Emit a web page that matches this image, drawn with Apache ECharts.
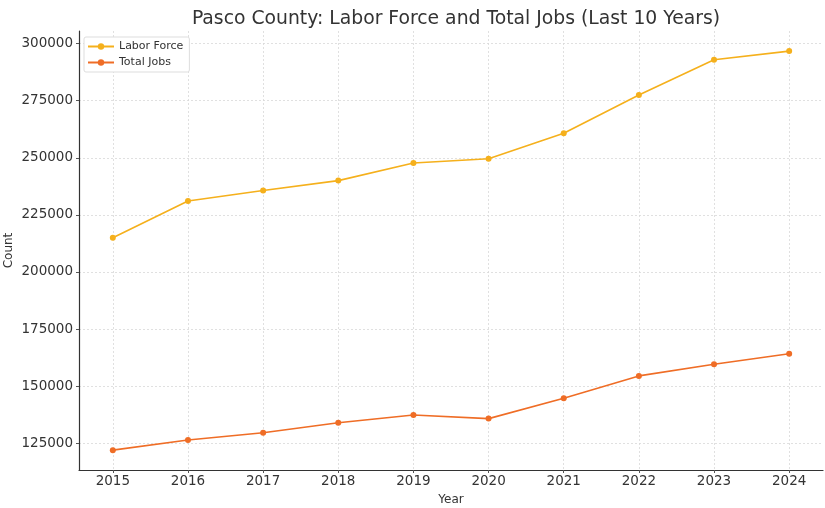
<!DOCTYPE html>
<html>
<head>
<meta charset="utf-8">
<script src="https://cdn.jsdelivr.net/npm/echarts@6/dist/echarts.min.js"></script>
<style>html,body{margin:0;padding:0;background:#fff}#c{width:825px;height:508px}</style>
</head>
<body>
<div id="c"></div>
<script>
var years = [2015, 2016, 2017, 2018, 2019, 2020, 2021, 2022, 2023, 2024];
var laborForce = [215000, 231100, 235700, 240000, 247700, 249600, 260700, 277500, 292900, 296700];
var totalJobs = [122000, 126400, 129600, 134000, 137400, 135800, 144700, 154500, 159600, 164200];
var yTicks = [125000, 150000, 175000, 200000, 225000, 250000, 275000, 300000];

var font = 'DejaVu Sans';
function pairs(vals) { return years.map(function (y, i) { return [y, vals[i]]; }); }

var chart = echarts.init(document.getElementById('c'), null, { renderer: 'canvas' });
chart.setOption({
  animation: false,
  backgroundColor: '#ffffff',
  title: {
    text: 'Pasco County: Labor Force and Total Jobs (Last 10 Years)',
    left: 451, top: 5, textAlign: 'center',
    textStyle: { fontFamily: font, fontSize: 18.8, fontWeight: 'normal', color: '#333' }
  },
  legend: {
    left: 84, top: 37, orient: 'vertical', itemGap: 5,
    padding: [4, 6, 4, 3],
    backgroundColor: '#fff', borderColor: '#ddd', borderWidth: 1, borderRadius: 2,
    itemWidth: 26, itemHeight: 8,
    textStyle: { fontFamily: font, fontSize: 11, color: '#333' },
    data: ['Labor Force', 'Total Jobs']
  },
  grid: { left: 79, right: 2, top: 31, bottom: 38, containLabel: false, outerBoundsMode: 'none' },
  xAxis: {
    type: 'value', min: 2014.55, max: 2024.45,
    name: 'Year', nameLocation: 'middle', nameGap: 24, nameMoveOverlap: false,
    nameTextStyle: { fontFamily: font, fontSize: 12, color: '#333' },
    axisLine: { show: true, lineStyle: { color: '#333', width: 1.2 } },
    axisTick: { show: true, length: 3, customValues: years, lineStyle: { color: '#555' } },
    axisLabel: { customValues: years, fontFamily: font, fontSize: 13.5, color: '#333', margin: 4,
      formatter: function (v) { return String(Math.round(v)); } },
    splitLine: { show: true, lineStyle: { color: '#d8d8d8', type: [2, 2], width: 0.8 } }
  },
  yAxis: {
    type: 'value', min: 113300, max: 305500,
    name: 'Count', nameLocation: 'middle', nameGap: 64, nameRotate: 90, nameMoveOverlap: false,
    nameTextStyle: { fontFamily: font, fontSize: 12, color: '#333' },
    axisLine: { show: true, lineStyle: { color: '#333', width: 1.2 } },
    axisTick: { show: true, length: 3, customValues: yTicks, lineStyle: { color: '#555' } },
    axisLabel: { customValues: yTicks, fontFamily: font, fontSize: 13.5, color: '#333', margin: 6,
      formatter: function (v) { return String(Math.round(v)); } },
    splitLine: { show: true, lineStyle: { color: '#d8d8d8', type: [2, 2], width: 0.8 } }
  },
  series: [
    {
      name: 'Labor Force', type: 'line', data: pairs(laborForce),
      symbol: 'circle', symbolSize: 6,
      itemStyle: { color: '#f5b01c' },
      lineStyle: { color: '#f5b01c', width: 1.6 }
    },
    {
      name: 'Total Jobs', type: 'line', data: pairs(totalJobs),
      symbol: 'circle', symbolSize: 6,
      itemStyle: { color: '#ef6d26' },
      lineStyle: { color: '#ef6d26', width: 1.6 }
    }
  ]
});
</script>
</body>
</html>
